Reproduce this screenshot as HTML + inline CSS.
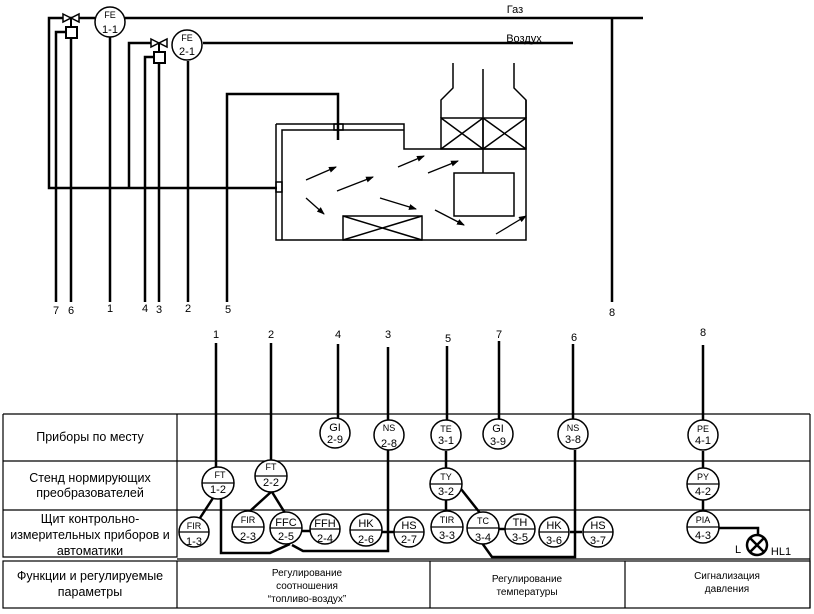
<!DOCTYPE html>
<html><head><meta charset="utf-8"><style>
html,body{margin:0;padding:0;background:#fff;}
svg{display:block;font-family:"Liberation Sans",sans-serif;}
</style></head><body>
<svg width="814" height="614" viewBox="0 0 814 614" xmlns="http://www.w3.org/2000/svg">
<defs><marker id="ar" markerWidth="8" markerHeight="6" refX="7" refY="3" orient="auto" markerUnits="userSpaceOnUse" viewBox="0 0 8 6"><path d="M0,0 L8,3 L0,6 z" fill="#000"/></marker></defs>
<g stroke="#000" fill="none">
<!-- gas -->
<g stroke-width="2.5">
<line x1="125" y1="18" x2="643" y2="18"/>
<polyline points="95,18 49,18 49,188 277,188"/>
<line x1="612" y1="18" x2="612" y2="302"/>
<polyline points="66,32 56,32 56,302"/>
<line x1="71" y1="38" x2="71" y2="302"/>
<line x1="110" y1="37" x2="110" y2="302"/>
<line x1="203" y1="43" x2="573" y2="43"/>
<polyline points="152,43 129,43 129,188"/>
<polyline points="154,57 145,57 145,302"/>
<line x1="159" y1="63" x2="159" y2="302"/>
<line x1="188" y1="61" x2="188" y2="302"/>
<polyline points="227,302 227,94 338,94 338,140"/>
</g>
<circle cx="110" cy="22" r="15" stroke-width="1.5"/>
<circle cx="187" cy="45" r="15" stroke-width="1.5"/>
<rect x="66" y="27" width="11" height="11" stroke-width="2"/>
<rect x="154" y="52" width="11" height="11" stroke-width="2"/>
<line x1="71" y1="18" x2="71" y2="27" stroke-width="2"/>
<line x1="159" y1="43" x2="159" y2="52" stroke-width="2"/>
<path d="M63,14 L79,22 L79,14 L63,22 Z" stroke-width="1.5" fill="#fff"/>
<path d="M151,39 L167,47 L167,39 L151,47 Z" stroke-width="1.5" fill="#fff"/>
<!-- furnace -->
<g stroke-width="1.5">
<polyline points="276,124 404,124 404,149 526,149"/>
<polyline points="276,124 276,240 526,240 526,100"/>
<polyline points="282,240 282,130 404,130"/>
<rect x="276" y="182" width="6" height="10"/>
<rect x="334" y="124" width="9" height="6"/>
<rect x="441" y="118" width="85" height="31"/>
<line x1="483" y1="118" x2="483" y2="149"/>
<path d="M441,118 L483,149 M483,118 L441,149 M483,118 L526,149 M526,118 L483,149"/>
<polyline points="441,118 441,100 453,88 453,63"/>
<polyline points="526,118 526,100 514,88 514,63"/>
<line x1="483" y1="69" x2="483" y2="173"/>
<rect x="454" y="173" width="60" height="43"/>
<rect x="343" y="216" width="79" height="24"/>
<path d="M343,216 L422,240 M343,240 L422,216"/>
</g>
<g stroke-width="1.3" marker-end="url(#ar)">
<line x1="306" y1="180" x2="336" y2="167"/>
<line x1="337" y1="191" x2="373" y2="177"/>
<line x1="398" y1="167" x2="424" y2="156"/>
<line x1="428" y1="173" x2="458" y2="161"/>
<line x1="306" y1="198" x2="324" y2="214"/>
<line x1="380" y1="198" x2="416" y2="209"/>
<line x1="435" y1="210" x2="464" y2="225"/>
<line x1="496" y1="234" x2="526" y2="216"/>
</g>
<!-- table -->
<g stroke-width="1.2">
<line x1="3" y1="414" x2="810" y2="414"/>
<line x1="3" y1="461" x2="810" y2="461"/>
<line x1="3" y1="510" x2="810" y2="510"/>
<line x1="177" y1="559" x2="810" y2="559"/>
<polyline points="3,414 3,557 177,557 177,414"/>
<line x1="810" y1="414" x2="810" y2="608"/>
<rect x="3" y="561" width="807" height="47"/>
<line x1="177" y1="561" x2="177" y2="608"/>
<line x1="430" y1="561" x2="430" y2="608"/>
<line x1="625" y1="561" x2="625" y2="608"/>
</g>
<g stroke-width="2.5">
<line x1="216" y1="343" x2="216" y2="468"/>
<line x1="271" y1="343" x2="271" y2="461"/>
<line x1="338" y1="344" x2="338" y2="418"/>
<line x1="388" y1="347" x2="388" y2="420"/>
<line x1="447" y1="346" x2="447" y2="420"/>
<line x1="499" y1="341" x2="499" y2="419"/>
<line x1="573" y1="344" x2="573" y2="419"/>
<line x1="703" y1="345" x2="703" y2="420"/>
<polyline points="221,499 221,553 270,553 290,544"/>
<polyline points="388,450 388,551 303,551 292,545"/>
<line x1="213" y1="498" x2="200" y2="518"/>
<line x1="271" y1="492" x2="249" y2="512"/>
<line x1="272" y1="492" x2="285" y2="513"/>
<line x1="302" y1="531" x2="310" y2="531"/>
<line x1="382" y1="532" x2="394" y2="532"/>
<line x1="446" y1="451" x2="446" y2="468"/>
<line x1="446" y1="500" x2="446" y2="512"/>
<line x1="461" y1="489" x2="480" y2="513"/>
<line x1="499" y1="529" x2="505" y2="529"/>
<line x1="570" y1="532" x2="582" y2="532"/>
<polyline points="575,450 575,557 492,557 482,543"/>
<line x1="703" y1="451" x2="703" y2="468"/>
<line x1="703" y1="500" x2="703" y2="512"/>
<polyline points="718,528 758,528 758,535"/>
</g>
<g stroke-width="1.5" fill="#fff">
<circle cx="335" cy="433" r="15"/><circle cx="389" cy="435" r="15"/><circle cx="446" cy="435" r="15"/>
<circle cx="498" cy="434" r="15"/><circle cx="573" cy="434" r="15"/><circle cx="703" cy="435" r="15"/>
<circle cx="218" cy="483" r="16"/><circle cx="271" cy="476" r="16"/><circle cx="446" cy="484" r="16"/><circle cx="703" cy="484" r="16"/>
<circle cx="194" cy="532" r="15"/><circle cx="248" cy="527" r="16"/><circle cx="286" cy="528" r="16"/>
<circle cx="325" cy="529" r="15"/><circle cx="366" cy="530" r="16"/><circle cx="409" cy="532" r="15"/>
<circle cx="447" cy="527" r="16"/><circle cx="483" cy="528" r="16"/><circle cx="520" cy="529" r="15"/>
<circle cx="554" cy="532" r="15"/><circle cx="598" cy="532" r="15"/><circle cx="703" cy="527" r="16"/>
</g>
<g stroke-width="1.2">
<path d="M202,483h32 M255,476h32 M430,484h32 M687,484h32 M179,532h30 M232,527h32 M270,528h32 M310,529h30 M350,530h32 M394,532h30 M431,527h32 M467,528h32 M505,529h30 M539,532h30 M583,532h30 M687,527h32"/>
</g>
<circle cx="757" cy="545" r="10" stroke-width="2.5"/>
<path d="M750,538 L764,552 M764,538 L750,552" stroke-width="2.5"/>
</g>
<g font-size="11" text-anchor="middle" fill="#000">
<text x="515" y="13">Газ</text><text x="524" y="42">Воздух</text>
<g font-size="9"><text x="110" y="18">FE</text><text x="187" y="41">FE</text></g>
<text x="110" y="33">1-1</text><text x="187" y="55">2-1</text>
<text x="56" y="314">7</text><text x="71" y="314">6</text><text x="110" y="312">1</text><text x="145" y="312">4</text>
<text x="159" y="313">3</text><text x="188" y="312">2</text><text x="228" y="313">5</text><text x="612" y="316">8</text>
<text x="216" y="338">1</text><text x="271" y="338">2</text><text x="338" y="338">4</text><text x="388" y="338">3</text>
<text x="448" y="342">5</text><text x="499" y="338">7</text><text x="574" y="341">6</text><text x="703" y="336">8</text>
<g font-size="9">
<text x="389" y="431">NS</text><text x="446" y="432">TE</text><text x="573" y="431">NS</text><text x="703" y="432">PE</text>
<text x="220" y="478">FT</text><text x="271" y="470">FT</text><text x="446" y="480">TY</text><text x="703" y="480">PY</text>
<text x="194" y="529">FIR</text><text x="248" y="523">FIR</text><text x="447" y="523">TIR</text><text x="483" y="524">TC</text><text x="703" y="523">PIA</text>
</g>
<text x="335" y="431">GI</text><text x="335" y="443">2-9</text><text x="389" y="447">2-8</text><text x="446" y="444">3-1</text>
<text x="498" y="432">GI</text><text x="498" y="445">3-9</text><text x="573" y="443">3-8</text><text x="703" y="444">4-1</text>
<text x="218" y="493">1-2</text><text x="271" y="486">2-2</text><text x="446" y="495">3-2</text><text x="703" y="495">4-2</text>
<text x="194" y="545">1-3</text><text x="248" y="540">2-3</text><text x="286" y="526">FFC</text><text x="286" y="540">2-5</text>
<text x="325" y="527">FFH</text><text x="325" y="542">2-4</text><text x="366" y="527">HK</text><text x="366" y="543">2-6</text>
<text x="409" y="529">HS</text><text x="409" y="543">2-7</text><text x="447" y="539">3-3</text><text x="483" y="541">3-4</text>
<text x="520" y="526">TH</text><text x="520" y="541">3-5</text><text x="554" y="529">HK</text><text x="554" y="544">3-6</text>
<text x="598" y="529">HS</text><text x="598" y="544">3-7</text><text x="703" y="539">4-3</text>
<text x="738" y="553">L</text><text x="781" y="555">HL1</text>
<g font-size="12.5">
<text x="90" y="441">Приборы по месту</text>
<text x="90" y="482">Стенд нормирующих</text><text x="90" y="497">преобразователей</text>
<text x="90" y="523">Щит контрольно-</text><text x="90" y="539">измерительных приборов и</text><text x="90" y="555">автоматики</text>
<text x="90" y="580">Функции и регулируемые</text><text x="90" y="596">параметры</text>
</g>
<g font-size="10">
<text x="307" y="576">Регулирование</text><text x="307" y="589">соотношения</text><text x="307" y="602">“топливо-воздух”</text>
<text x="527" y="582">Регулирование</text><text x="527" y="595">температуры</text>
<text x="727" y="579">Сигнализация</text><text x="727" y="592">давления</text>
</g>
</g>
</svg>
</body></html>
